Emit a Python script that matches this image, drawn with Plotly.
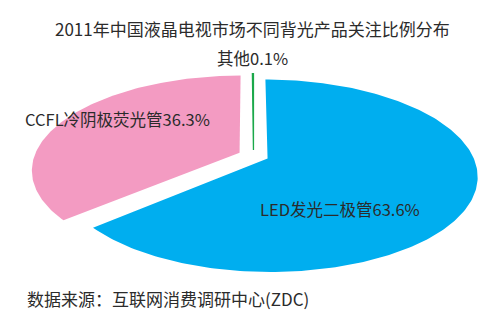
import numpy as np
import plotly.graph_objects as go

# ---- data ----
title_text = "2011年中国液晶电视市场不同背光产品关注比例分布"
source_text = "数据来源：互联网消费调研中心(ZDC)"
labels = ["LED发光二极管", "CCFL冷阴极荧光管", "其他"]
values = [63.6, 36.3, 0.1]

# ---- style ----
colors = ["#00AEEF", "#F39BC2", "#1BA84A"]
explode = [0.075, 0.075, 0.06]
CX, CY = 245.5, 147.5     # projected pie centre (pixel space)
A, B, K = 205.0, 92.0, 0.18  # horizontal radius, vertical radius, perspective
FONT = "Noto Sans CJK SC, Noto Sans, sans-serif"
TXT = "#2b2b2b"


def proj(u, v):
    d = 1.0 + K * v
    return CX + A * u / d, CY - B * v / d


fig = go.Figure()
total = float(sum(values))
cum = 0.0
order = [1, 0, 2]
shapes = []
for i, val in enumerate(values):
    s = cum / total
    cum += val
    t = cum / total
    a1 = np.deg2rad(90 - 360 * s)
    a2 = np.deg2rad(90 - 360 * t)
    m = (a1 + a2) / 2
    ou, ov = explode[i] * np.cos(m), explode[i] * np.sin(m)
    n = max(3, int(abs(a2 - a1) / np.deg2rad(1)) + 2)
    ang = np.linspace(a1, a2, n)
    us = np.concatenate([[ou], ou + np.cos(ang), [ou]])
    vs = np.concatenate([[ov], ov + np.sin(ang), [ov]])
    xs, ys = proj(us, vs)
    shapes.append((xs, ys, colors[i], val))

for i in order:
    xs, ys, c, val = shapes[i]
    fig.add_trace(go.Scatter(
        x=xs, y=ys, mode="lines", fill="toself", fillcolor=c,
        line=dict(color=c, width=1.3 if val < 1 else 0),
        hoverinfo="skip", showlegend=False))

ann = []
ann.append(dict(x=244, y=20, text=title_text, showarrow=False,
                xanchor="center", yanchor="middle",
                font=dict(family=FONT, size=17, color=TXT)))
label_pos = [(250, 201, "left"), (15, 111, "left"), (244, 50, "center")]
for lab, val, (lx, ly, anc) in zip(labels, values, label_pos):
    ann.append(dict(x=lx, y=ly, text=f"{lab}{val}%", showarrow=False,
                    xanchor=anc, yanchor="middle",
                    font=dict(family=FONT, size=16.5, color=TXT)))
ann.append(dict(x=17, y=290, text=source_text, showarrow=False,
                xanchor="left", yanchor="middle",
                font=dict(family=FONT, size=17, color=TXT)))

fig.update_layout(
    width=487, height=311,
    margin=dict(l=0, r=0, t=0, b=0),
    paper_bgcolor="white", plot_bgcolor="white",
    xaxis=dict(range=[0, 487], visible=False, fixedrange=True),
    yaxis=dict(range=[311, 0], visible=False, fixedrange=True),
    annotations=ann,
)
fig.write_html("out.html")
